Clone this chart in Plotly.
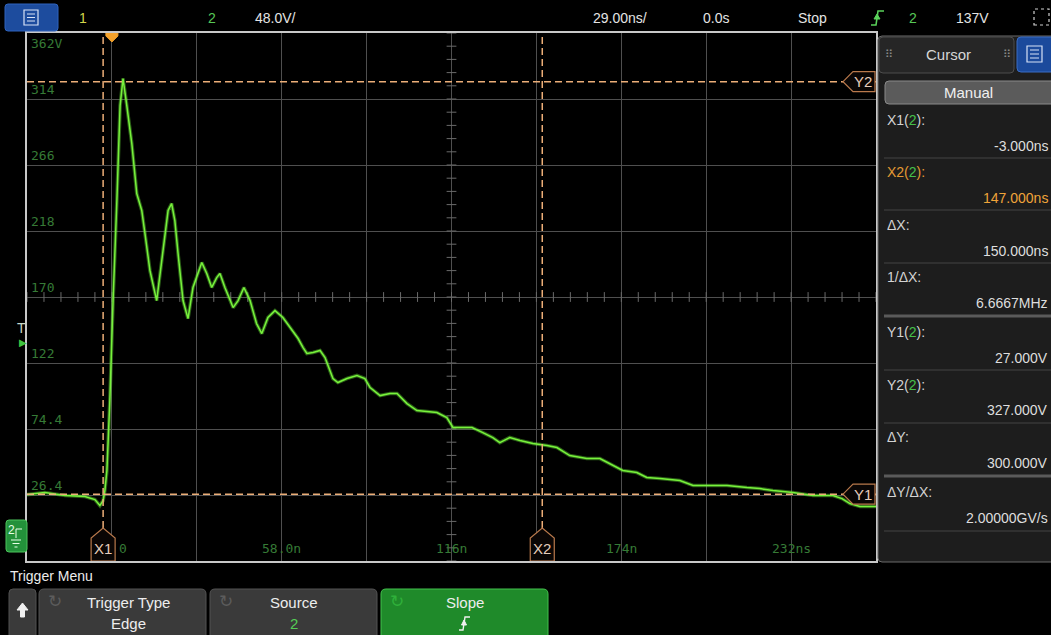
import numpy as np
import plotly.graph_objects as go

W, H = 1051, 635

# ---------------- data (channel 2 waveform) ----------------
time_ns = [-29.0, -22.9, -16.0, -9.2, -5.8, -4.1, -3.0, -2.4, -1.7, -0.7, 0.4, 1.1, 1.7, 2.8, 3.8,
           5.0, 6.8, 8.5, 10.2, 11.3, 13.0, 15.3, 17.5, 19.2, 20.4, 21.5, 22.6, 24.3, 26.0, 27.7,
           30.7, 32.4, 34.1, 35.8, 36.9, 38.6, 41.4, 43.1, 45.1, 47.2, 49.4, 51.2, 53.3, 55.7,
           58.4, 60.8, 63.6, 65.3, 66.6, 68.7, 71.1, 72.8, 75.5, 77.2, 80.3, 83.7, 86.4, 88.2,
           91.6, 95.0, 97.4, 100.8, 104.2, 111.0, 114.4, 116.5, 123.0, 126.7, 130.1, 132.5,
           135.9, 139.4, 143.8, 148.6, 152.0, 156.4, 162.2, 166.7, 170.1, 174.5, 179.3, 182.7,
           187.2, 194.0, 198.5, 210.1, 216.9, 221.3, 225.8, 232.6, 239.5, 246.3, 249.4, 252.1,
           255.5, 261.0]
volts = [26.7, 28.2, 26.0, 25.3, 23.1, 18.7, 22.4, 29.6, 44.2, 95.1, 167.8, 204.2, 240.5, 309.6,
         329.3, 311.1, 282.0, 245.6, 233.3, 216.5, 189.6, 167.8, 206.4, 233.3, 238.4, 226.0,
         202.0, 167.8, 154.7, 177.3, 195.5, 187.5, 177.3, 184.5, 187.5, 177.3, 162.7, 167.8,
         177.3, 167.8, 151.1, 143.8, 155.5, 160.5, 155.5, 148.2, 140.2, 133.6, 129.3, 130.0,
         131.5, 126.4, 111.1, 108.2, 111.1, 113.3, 111.1, 104.5, 98.7, 100.2, 100.2, 92.9,
         87.8, 86.4, 82.7, 75.5, 75.5, 71.8, 68.2, 64.5, 68.2, 66.0, 63.8, 62.4, 60.9, 55.1,
         52.9, 52.9, 49.3, 44.2, 42.7, 39.1, 38.4, 36.9, 33.3, 33.3, 31.8, 31.1, 29.6, 28.2,
         26.0, 26.0, 23.8, 20.2, 18.0, 18.0]

# ---------------- axis / scale ----------------
x_range = [-29.0, 261.0]      # 29 ns/div, 10 div
y_range = [-21.6, 362.4]      # 48 V/div, 8 div
x_div, y_div = 29.0, 48.0
x_label_vals = [58.0, 116.0, 174.0, 232.0]
x_label_text = ["58.0n", "116n", "174n", "232ns"]
y_label_vals = [362.4, 314.4, 266.4, 218.4, 170.4, 122.4, 74.4, 26.4]
y_label_text = ["362V", "314", "266", "218", "170", "122", "74.4", "26.4"]

# ---------------- cursors / trigger ----------------
x1_ns, x2_ns = -3.0, 147.0
y1_v, y2_v = 27.0, 327.0
trigger_time = 0.0
trigger_level = 137.0

# ---------------- header texts ----------------
top_texts = [("1", 83, "#d2d64a"), ("2", 212, "#56c856"), ("48.0V/", 275, "#e4e4e4"),
             ("29.00ns/", 620, "#e4e4e4"), ("0.0s", 716, "#e4e4e4"), ("Stop", 812, "#e4e4e4"),
             ("2", 913, "#56c856"), ("137V", 972, "#e4e4e4")]

panel_labels = ["X1(2):", "X2(2):", "ΔX:", "1/ΔX:", "Y1(2):", "Y2(2):", "ΔY:", "ΔY/ΔX:"]
panel_values = ["-3.000ns", "147.000ns", "150.000ns", "6.6667MHz",
                "27.000V", "327.000V", "300.000V", "2.00000GV/s"]

menu_titles = ["Trigger Type", "Source", "Slope"]
menu_values = ["Edge", "2", ""]

# ---------------- helpers ----------------
def px(x):
    return x / W


def py(y):
    return 1 - y / H


def rrect(x0, y0, x1, y1, r):
    return (f"M{px(x0 + r)},{py(y0)} L{px(x1 - r)},{py(y0)} Q{px(x1)},{py(y0)} {px(x1)},{py(y0 + r)} "
            f"L{px(x1)},{py(y1 - r)} Q{px(x1)},{py(y1)} {px(x1 - r)},{py(y1)} "
            f"L{px(x0 + r)},{py(y1)} Q{px(x0)},{py(y1)} {px(x0)},{py(y1 - r)} "
            f"L{px(x0)},{py(y0 + r)} Q{px(x0)},{py(y0)} {px(x0 + r)},{py(y0)} Z")


def ppath(points, close=True):
    s = "M" + " L".join(f"{px(a)},{py(b)}" for a, b in points)
    return s + (" Z" if close else "")


shapes = []
annotations = []


def note(text, x, y, xref="paper", yref="paper", xanchor="center", yanchor="middle", **kw):
    d = dict(text=text, x=x, y=y, xref=xref, yref=yref, xanchor=xanchor, yanchor=yanchor,
             showarrow=False)
    d.update(kw)
    annotations.append(d)


FONT = "Liberation Sans, Arial, sans-serif"
MONO = "DejaVu Sans Mono, monospace"
DIM_GREEN = "#367a36"
CUR = "#ecae78"
MARK = "#b9794c"

# ---------------- figure ----------------
fig = go.Figure()

# minor ticks on centre cross
cx = (x_range[0] + x_range[1]) / 2
cy = (y_range[0] + y_range[1]) / 2
tx = np.arange(x_range[0], x_range[1] + 1e-6, x_div / 5)
ty = np.arange(y_range[0], y_range[1] + 1e-6, y_div / 5)
fig.add_trace(go.Scatter(x=tx, y=[cy] * len(tx), mode="markers", hoverinfo="skip",
                         marker=dict(symbol="line-ns", size=7, line=dict(width=1, color="#6a6a6a"))))
fig.add_trace(go.Scatter(x=[cx] * len(ty), y=ty, mode="markers", hoverinfo="skip",
                         marker=dict(symbol="line-ew", size=7, line=dict(width=1, color="#6a6a6a"))))

# waveform: fuzz + core
fig.add_trace(go.Scatter(x=time_ns, y=volts, mode="lines", hoverinfo="skip",
                         line=dict(color="rgba(105,235,55,0.40)", width=3.6)))
fig.add_trace(go.Scatter(x=time_ns, y=volts, mode="lines", hoverinfo="skip",
                         line=dict(color="#78f23c", width=1.5)))

# ---- top bar ----
shapes.append(dict(type="path", xref="paper", yref="paper", path=rrect(5, 4, 58, 31, 3),
                   fillcolor="#1d4c9e", line=dict(color="#2f63bd", width=1)))
shapes.append(dict(type="rect", xref="paper", yref="paper", x0=px(24), x1=px(38), y0=py(25), y1=py(10),
                   line=dict(color="#d8e2f5", width=1.2), fillcolor="rgba(0,0,0,0)"))
for yy in (14, 17.5, 21):
    shapes.append(dict(type="line", xref="paper", yref="paper", x0=px(27), x1=px(35), y0=py(yy), y1=py(yy),
                       line=dict(color="#d8e2f5", width=1)))
for txt, xc, col in top_texts:
    note(txt, px(xc), py(18), font=dict(family=FONT, size=14, color=col))
# trigger slope icon in top bar
shapes.append(dict(type="path", xref="paper", yref="paper",
                   path=ppath([(871, 25), (876, 25), (878, 11), (884, 11)], close=False),
                   line=dict(color="#5ad25a", width=1.6)))
shapes.append(dict(type="path", xref="paper", yref="paper",
                   path=ppath([(874, 19), (877, 14), (880, 19)]),
                   fillcolor="#5ad25a", line=dict(color="#5ad25a", width=1)))
# acquisition icon
shapes.append(dict(type="rect", xref="paper", yref="paper", x0=px(1034), x1=px(1049), y0=py(25), y1=py(9),
                   line=dict(color="#d0d0d0", width=1.2, dash="dot"), fillcolor="rgba(0,0,0,0)"))

# ---- left strip markers ----
note("▶", px(23), trigger_level, yref="y", font=dict(family="DejaVu Sans", size=10, color="#3fc43f"))
note("T", px(21), trigger_level, yref="y", yshift=15, font=dict(family=FONT, size=14, color="#c9d9c9"))
shapes.append(dict(type="path", xref="paper", yref="paper", path=rrect(6, 520, 27, 552, 3),
                   fillcolor="#23913a", line=dict(color="#4cc45c", width=1)))
note("2", px(11), py(530), font=dict(family=FONT, size=12, color="#e8ffe8"))
shapes.append(dict(type="path", xref="paper", yref="paper",
                   path=ppath([(16, 538), (16, 529), (22, 529)], close=False),
                   line=dict(color="#e8ffe8", width=1)))
for yy, half in ((540, 5), (543.5, 3.5), (547, 1.5)):
    shapes.append(dict(type="line", xref="paper", yref="paper", x0=px(16 - half), x1=px(16 + half),
                       y0=py(yy), y1=py(yy), line=dict(color="#e8ffe8", width=1)))

# ---- cursor lines ----
dash = "7px,4px"
for xv in (x1_ns, x2_ns):
    shapes.append(dict(type="line", xref="x", yref="y", x0=xv, x1=xv, y0=y_range[0], y1=y_range[1],
                       line=dict(color=CUR, width=1.5, dash=dash)))
for yv in (y1_v, y2_v):
    shapes.append(dict(type="line", xref="x", yref="y", x0=x_range[0], x1=x_range[1], y0=yv, y1=yv,
                       line=dict(color=CUR, width=1.5, dash=dash)))

# cursor tags (pixel-sized, anchored on data)
for xv, name in ((x1_ns, "X1"), (x2_ns, "X2")):
    shapes.append(dict(type="path", xref="x", yref="y", xsizemode="pixel", ysizemode="pixel",
                       xanchor=xv, yanchor=y_range[0],
                       path="M-12,0 L-12,23 L0,33 L12,23 L12,0 Z",
                       fillcolor="#0a0605", line=dict(color=MARK, width=1.2)))
    note(name, xv, y_range[0], xref="x", yref="y", yanchor="bottom", yshift=2,
         font=dict(family=FONT, size=15, color="#e6cdbb"))
for yv, name in ((y1_v, "Y1"), (y2_v, "Y2")):
    shapes.append(dict(type="path", xref="x", yref="y", xsizemode="pixel", ysizemode="pixel",
                       xanchor=x_range[1], yanchor=yv,
                       path="M-1,-10 L-23,-10 L-33,0 L-23,10 L-1,10 Z",
                       fillcolor="#0a0605", line=dict(color=MARK, width=1.2)))
    note(name, x_range[1], yv, xref="x", yref="y", xanchor="right", xshift=-2,
         font=dict(family=FONT, size=15, color="#e6cdbb"))

# trigger time marker at top
shapes.append(dict(type="path", xref="x", yref="y", xsizemode="pixel", ysizemode="pixel",
                   xanchor=trigger_time, yanchor=y_range[1],
                   path="M-6,1 L6,1 L6,-3 L0,-9 L-6,-3 Z",
                   fillcolor="#f4a12a", line=dict(color="#f4a12a", width=1)))

# ---- axis labels (inside graticule) ----
for v, t in zip(x_label_vals, x_label_text):
    note(t, v, py(548), xref="x", font=dict(family=MONO, size=13, color=DIM_GREEN))
note("0", trigger_time, py(548), xref="x", xanchor="left", xshift=5,
     font=dict(family=MONO, size=13, color=DIM_GREEN))
for i, (v, t) in enumerate(zip(y_label_vals, y_label_text)):
    note(t, px(29), v, yref="y", xanchor="left", yanchor="top" if i == 0 else "bottom",
         yshift=-1 if i == 0 else 0, font=dict(family=MONO, size=13, color=DIM_GREEN))

# ---- right cursor panel ----
shapes.append(dict(type="path", xref="paper", yref="paper", path=rrect(878, 36, 1055, 562, 4),
                   fillcolor="#1d1d1d", line=dict(color="#6b6b6b", width=1)))
shapes.append(dict(type="path", xref="paper", yref="paper", path=rrect(879, 37, 1014, 73, 4),
                   fillcolor="#262626", line=dict(color="#4d4d4d", width=1)))
shapes.append(dict(type="path", xref="paper", yref="paper", path=rrect(1017, 37, 1058, 72, 4),
                   fillcolor="#1b4a9c", line=dict(color="#3a6cc4", width=1)))
shapes.append(dict(type="rect", xref="paper", yref="paper", x0=px(1027), x1=px(1042), y0=py(62), y1=py(46),
                   line=dict(color="#d8e2f5", width=1.2), fillcolor="rgba(0,0,0,0)"))
for yy in (50, 54, 58):
    shapes.append(dict(type="line", xref="paper", yref="paper", x0=px(1030), x1=px(1039), y0=py(yy), y1=py(yy),
                       line=dict(color="#d8e2f5", width=1)))
note("Cursor", px(948), py(54), font=dict(family=FONT, size=15, color="#d6d6d6"))
for xd in (889, 1007):
    note("⠿", px(xd), py(54), font=dict(family="DejaVu Sans", size=11, color="#8a8a8a"))
shapes.append(dict(type="path", xref="paper", yref="paper", path=rrect(885, 81, 1058, 104, 4),
                   fillcolor="#5b5b5b", line=dict(color="#8a8a8a", width=1)))
note("Manual", px(968), py(93), font=dict(family=FONT, size=15, color="#f0f0f0"))

label_y = [120, 172, 225, 277, 332, 385, 437, 492]
value_y = [146, 198, 251, 303, 358, 410, 463, 518]
sep_y = [158, 210, 263, 316, 370, 423, 476, 531]
thick = {316, 476}
for lab, val, ly, vy in zip(panel_labels, panel_values, label_y, value_y):
    col = "#e39a33" if lab.startswith("X2") else "#d3d3d3"
    vcol = "#f0a43a" if lab.startswith("X2") else "#dedede"
    txt = lab.replace("(2)", "(<span style='color:#45c04a'>2</span>)")
    note(txt, px(885), py(ly), xanchor="left", font=dict(family=FONT, size=14, color=col))
    note(val, px(1050), py(vy), xanchor="right", font=dict(family=FONT, size=14, color=vcol))
for sy in sep_y:
    shapes.append(dict(type="line", xref="paper", yref="paper", x0=px(884), x1=1, y0=py(sy), y1=py(sy),
                       line=dict(color="#5a5a5a" if sy in thick else "#444444", width=3 if sy in thick else 1)))

# ---- bottom menu ----
note("Trigger Menu", px(8), py(576), xanchor="left", font=dict(family=FONT, size=14, color="#ececec"))
shapes.append(dict(type="path", xref="paper", yref="paper", path=rrect(9, 589, 36, 640, 4),
                   fillcolor="#3a3a3a", line=dict(color="#505050", width=1)))
shapes.append(dict(type="path", xref="paper", yref="paper",
                   path=ppath([(22.5, 603), (17, 610), (20.5, 610), (20.5, 617), (24.5, 617), (24.5, 610), (28, 610)]),
                   fillcolor="#f0f0f0", line=dict(color="#f0f0f0", width=1)))
btn_x = [(39, 206), (210, 377), (381, 548)]
for i, ((bx0, bx1), t, v) in enumerate(zip(btn_x, menu_titles, menu_values)):
    green = (i == 2)
    shapes.append(dict(type="path", xref="paper", yref="paper", path=rrect(bx0, 589, bx1, 640, 5),
                       fillcolor="#1f8a2a" if green else "#3a3a3a",
                       line=dict(color="#43c14d" if green else "#535353", width=1)))
    xc = (bx0 + bx1) / 2 + (6 if i == 0 else 0)
    note("↻", px(bx0 + 16), py(601), font=dict(family="DejaVu Sans", size=17,
                                                color="#2fb03a" if green else "#5c5c5c"))
    note(t, px(xc), py(602), font=dict(family=FONT, size=15, color="#ededed"))
    if v:
        note(v, px(xc), py(623), font=dict(family=FONT, size=15, color="#55cc55" if v == "2" else "#ededed"))
# slope glyph in Slope button
shapes.append(dict(type="path", xref="paper", yref="paper",
                   path=ppath([(459, 630), (463, 630), (465, 617), (470, 617)], close=False),
                   line=dict(color="#f0f0f0", width=1.4)))
shapes.append(dict(type="path", xref="paper", yref="paper",
                   path=ppath([(461.5, 625), (464, 620), (466.5, 625)]),
                   fillcolor="#f0f0f0", line=dict(color="#f0f0f0", width=1)))

fig.update_layout(
    width=W, height=H,
    margin=dict(l=0, r=0, t=0, b=0, pad=0),
    paper_bgcolor="#000000", plot_bgcolor="#000000",
    showlegend=False, hovermode=False,
    shapes=shapes, annotations=annotations,
    xaxis=dict(domain=[px(27), px(876)], range=x_range, tick0=0, dtick=x_div,
               showgrid=True, gridcolor="#4f4f4f", gridwidth=1, zeroline=False,
               showticklabels=False, ticks="", showline=True, mirror=True,
               linecolor="#c8c8c8", linewidth=1.5, fixedrange=True),
    yaxis=dict(domain=[py(561), py(33)], range=y_range, tick0=y_label_vals[-1], dtick=y_div,
               showgrid=True, gridcolor="#4f4f4f", gridwidth=1, zeroline=False,
               showticklabels=False, ticks="", showline=True, mirror=True,
               linecolor="#c8c8c8", linewidth=1.5, fixedrange=True),
)

fig.write_html("out.html", config={"displayModeBar": False},
               post_script="document.body.style.margin='0px';document.body.style.background='#000';")
